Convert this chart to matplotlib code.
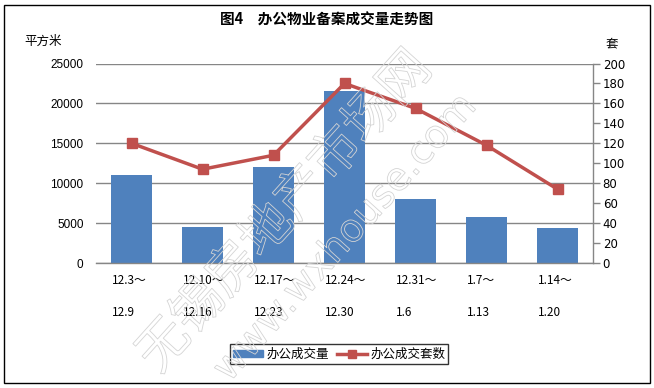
import matplotlib
matplotlib.use("Agg")
import matplotlib.pyplot as plt
import matplotlib.patheffects as pe
from matplotlib.patches import Rectangle
from matplotlib.lines import Line2D
from matplotlib.patches import Patch
import numpy as np

plt.rcParams['font.family'] = ['Noto Sans CJK SC', 'DejaVu Sans']

# ---- data ----
cat_line1 = ["12.3～", "12.10～", "12.17～", "12.24～", "12.31～", "1.7～", "1.14～"]
cat_line2 = ["12.9", "12.16", "12.23", "12.30", "1.6", "1.13", "1.20"]
area = [11000, 4500, 12000, 21500, 8000, 5800, 4400]        # 办公成交量 (平方米)
units = [120, 94, 108, 180, 155, 118, 74]                    # 办公成交套数 (套)
left_ticks = [0, 5000, 10000, 15000, 20000, 25000]
right_ticks = list(range(0, 201, 20))

title = "图4　办公物业备案成交量走势图"
left_unit = "平方米"
right_unit = "套"
bar_label = "办公成交量"
line_label = "办公成交套数"
watermark1 = "无锡房地产市场网"
watermark2 = "www.wxhouse.com"

BLUE = "#4F81BD"
RED = "#C0504D"
GRID = "#868686"

W, H = 654, 388
fig = plt.figure(figsize=(W / 100, H / 100), dpi=100)

# figure border
fig.patches.append(Rectangle((4 / W, 5 / H), 646 / W, 378 / H, transform=fig.transFigure,
                             fill=False, edgecolor="black", linewidth=1.0))

ax = fig.add_axes([96 / W, 1 - 263 / H, 497 / W, 199.5 / H])
x = np.arange(len(area))
ax.bar(x, area, width=0.58, color=BLUE, zorder=2)
ax.set_xlim(-0.5, len(area) - 0.5)
ax.set_ylim(0, 25000)
ax.set_yticks(left_ticks)
ax.set_yticklabels([str(v) for v in left_ticks], fontsize=8.5, family=['Liberation Sans'])
ax.tick_params(axis='y', length=0, pad=9)
ax.yaxis.grid(True, color=GRID, linewidth=1.0, zorder=0)
ax.set_axisbelow(True)
ax.set_xticks([])
for s in ["top", "left", "right"]:
    ax.spines[s].set_visible(False)
ax.spines["bottom"].set_color(GRID)
ax.spines["bottom"].set_linewidth(1.0)

for i in x:
    ax.text(i - 0.27, -17 / 199.5, cat_line1[i], transform=ax.get_xaxis_transform(),
            ha='left', va='center', fontsize=8.5, family=['Noto Sans CJK SC'])
    ax.text(i - 0.27, -49 / 199.5, cat_line2[i], transform=ax.get_xaxis_transform(),
            ha='left', va='center', fontsize=8.5, family=['Noto Sans CJK SC'])

ax2 = ax.twinx()
ax2.plot(x, units, color=RED, linewidth=2.5, marker='s', markersize=7,
         markerfacecolor=RED, markeredgecolor=RED, zorder=3)
ax2.set_ylim(0, 200)
ax2.set_yticks(right_ticks)
ax2.set_yticklabels([str(v) for v in right_ticks], fontsize=8.5, family=['DejaVu Sans'])
ax2.tick_params(axis='y', length=5, width=1, color=GRID, pad=2, direction='out')
for s in ["top", "left", "bottom"]:
    ax2.spines[s].set_visible(False)
ax2.spines["right"].set_color(GRID)
ax2.spines["right"].set_linewidth(1.0)

# texts
fig.text(327 / W, 1 - 20 / H, title, ha='center', va='center', fontsize=10.5, fontweight='bold')
fig.text(43 / W, 1 - 41 / H, left_unit, ha='center', va='center', fontsize=9)
fig.text(612 / W, 1 - 44 / H, right_unit, ha='center', va='center', fontsize=9)

# legend
handles = [Patch(facecolor=BLUE, edgecolor=BLUE),
           Line2D([], [], color=RED, linewidth=2.5, marker='s', markersize=6)]
leg = fig.legend(handles, [bar_label, line_label], loc='center', bbox_to_anchor=(339 / W, 1 - 354 / H),
                 ncol=2, frameon=True, fancybox=False, fontsize=9, handlelength=2.4, handleheight=0.5,
                 columnspacing=0.6, handletextpad=0.3, borderpad=0.25, borderaxespad=0)
leg.get_frame().set_edgecolor("black")
leg.get_frame().set_linewidth(1.0)

# watermark (faint hollow outlined text)
wm_effects = [pe.Stroke(linewidth=0.6, foreground="#d4d4d4")]
fig.text(285 / W, 1 - 212 / H, watermark1, rotation=48, ha='center', va='center', fontsize=37,
         color=(1, 1, 1, 0), path_effects=wm_effects, zorder=10)
fig.text(345 / W, 1 - 238 / H, watermark2, rotation=48, ha='center', va='center', fontsize=28,
         color=(1, 1, 1, 0), path_effects=wm_effects, zorder=10, family=['DejaVu Sans'])

fig.savefig("out.png", dpi=100)
